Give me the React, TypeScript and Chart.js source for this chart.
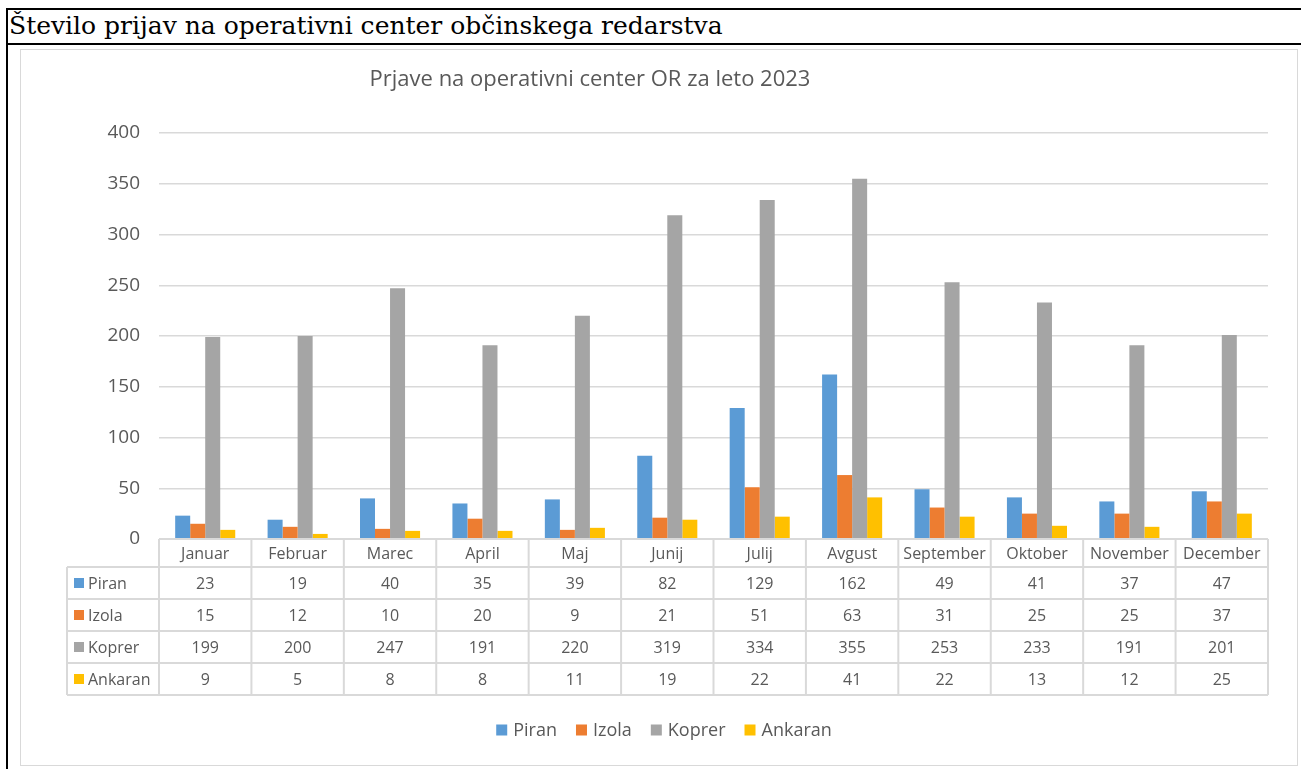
import React, { useEffect, useRef } from "react";
import { Chart, registerables } from "chart.js";

Chart.register(...registerables);

const months = ["Januar", "Februar", "Marec", "April", "Maj", "Junij", "Julij", "Avgust", "September", "Oktober", "November", "December"];
const piran = [23, 19, 40, 35, 39, 82, 129, 162, 49, 41, 37, 47];
const izola = [15, 12, 10, 20, 9, 21, 51, 63, 31, 25, 25, 37];
const koprer = [199, 200, 247, 191, 220, 319, 334, 355, 253, 233, 191, 201];
const ankaran = [9, 5, 8, 8, 11, 19, 22, 41, 22, 13, 12, 25];
const seriesNames = ["Piran", "Izola", "Koprer", "Ankaran"];
const seriesColors = ["#5b9bd5", "#ed7d31", "#a5a5a5", "#ffc000"];
const yMin = 0;
const yMax = 400;
const yStep = 50;
const chartTitle = "Prjave na operativni center OR za leto 2023";
const headerText = "Število prijav na operativni center občinskega redarstva";

const FONT = "'Open Sans', sans-serif";
const TEXT = "#595959";
const LINE = "#d9d9d9";

const tablePlugin = {
  id: "tableAndLegend",
  afterDraw(chart: any) {
    const ctx = chart.ctx as CanvasRenderingContext2D;
    const area = chart.chartArea;
    const xs = chart.scales.x;
    const n = months.length;
    const colW = (area.right - area.left) / n;
    const headerTop = area.bottom;
    const headerH = 28;
    const rowH = 32;
    const labelLeft = area.left - 92;
    const rowsTop = headerTop + headerH;
    const nRows = chart.data.datasets.length;
    const tableBottom = rowsTop + rowH * nRows;

    ctx.save();
    // title
    ctx.fillStyle = TEXT;
    ctx.font = `22px ${FONT}`;
    ctx.textAlign = "center";
    ctx.textBaseline = "middle";
    ctx.fillText(chartTitle, 569, 30);

    // table lines
    ctx.strokeStyle = LINE;
    ctx.lineWidth = 2;
    const line = (x1: number, y1: number, x2: number, y2: number) => {
      ctx.beginPath();
      ctx.moveTo(x1, y1);
      ctx.lineTo(x2, y2);
      ctx.stroke();
    };
    line(area.left, headerTop, area.right, headerTop);
    for (let r = 0; r <= nRows; r++) {
      line(labelLeft, rowsTop + r * rowH, area.right, rowsTop + r * rowH);
    }
    line(labelLeft, rowsTop, labelLeft, tableBottom);
    for (let i = 0; i <= n; i++) {
      const bx = i < n ? xs.getPixelForValue(i) - colW / 2 : area.right;
      line(bx, headerTop, bx, tableBottom);
    }

    // month labels
    ctx.fillStyle = TEXT;
    ctx.font = `16px ${FONT}`;
    ctx.textAlign = "center";
    ctx.textBaseline = "middle";
    months.forEach((m, i) => {
      ctx.fillText(m, xs.getPixelForValue(i), headerTop + headerH / 2 + 1);
    });

    // rows
    chart.data.datasets.forEach((ds: any, r: number) => {
      const cy = rowsTop + r * rowH + rowH / 2;
      ctx.fillStyle = ds.backgroundColor;
      ctx.fillRect(labelLeft + 7, cy - 5, 10, 10);
      ctx.fillStyle = TEXT;
      ctx.textAlign = "left";
      ctx.fillText(ds.label, labelLeft + 21, cy + 1);
      ctx.textAlign = "center";
      ds.data.forEach((v: number, i: number) => {
        ctx.fillText(String(v), xs.getPixelForValue(i), cy + 1);
      });
    });

    // legend
    ctx.font = `18px ${FONT}`;
    ctx.textAlign = "left";
    const box = 11;
    const gapBoxText = 6;
    const gapItems = 19;
    const widths = chart.data.datasets.map((ds: any) => box + gapBoxText + ctx.measureText(ds.label).width);
    const total = widths.reduce((a: number, b: number) => a + b, 0) + gapItems * (widths.length - 1);
    let lx = chart.width / 2 + 5 - total / 2;
    const ly = 680;
    chart.data.datasets.forEach((ds: any, k: number) => {
      ctx.fillStyle = ds.backgroundColor;
      ctx.fillRect(lx, ly - box / 2, box, box);
      ctx.fillStyle = TEXT;
      ctx.fillText(ds.label, lx + box + gapBoxText, ly + 1);
      lx += widths[k] + gapItems;
    });
    ctx.restore();
  },
};

export default function App() {
  const canvasRef = useRef<HTMLCanvasElement | null>(null);

  useEffect(() => {
    const canvas = canvasRef.current;
    if (!canvas) return;
    const values = [piran, izola, koprer, ankaran];
    const chart = new Chart(canvas, {
      type: "bar",
      data: {
        labels: months,
        datasets: values.map((d, k) => ({
          label: seriesNames[k],
          data: d,
          backgroundColor: seriesColors[k],
          borderWidth: 0,
          categoryPercentage: 0.65,
          barPercentage: 1.0,
        })),
      },
      options: {
        animation: false,
        responsive: false,
        devicePixelRatio: 1,
        layout: { padding: { left: 0, top: 83, right: 29, bottom: 226 } },
        plugins: {
          legend: { display: false },
          title: { display: false },
          tooltip: { enabled: false },
        },
        scales: {
          x: { display: false, offset: true },
          y: {
            min: yMin,
            max: yMax,
            ticks: { stepSize: yStep, padding: 19, color: TEXT, font: { family: "'Open Sans', sans-serif", size: 19 } },
            grid: { color: LINE, drawTicks: false, lineWidth: 1.5 },
            border: { display: false },
            afterFit: (s: any) => {
              s.width = 138;
            },
          },
        },
      },
      plugins: [tablePlugin],
    } as any);
    return () => chart.destroy();
  }, []);

  return (
    <div style={{ position: "absolute", left: 0, top: 0, width: 1301, height: 769, background: "#fff", overflow: "hidden" }}>
      <div style={{ position: "absolute", left: 6, top: 8, width: 1295, height: 2, background: "#000" }} />
      <div style={{ position: "absolute", left: 6, top: 43, width: 1295, height: 2, background: "#000" }} />
      <div style={{ position: "absolute", left: 6, top: 8, width: 2, height: 761, background: "#000" }} />
      <div
        style={{
          position: "absolute",
          left: 9,
          top: 11,
          fontFamily: "'DejaVu Serif', serif",
          fontSize: 25,
          lineHeight: "29px",
          color: "#000",
          whiteSpace: "nowrap",
        }}
      >
        {headerText}
      </div>
      <div
        style={{
          position: "absolute",
          left: 20,
          top: 49,
          width: 1278,
          height: 717,
          border: "1px solid #d9d9d9",
          boxSizing: "border-box",
        }}
      >
        <canvas ref={canvasRef} width={1276} height={715} style={{ display: "block", width: 1276, height: 715 }} />
      </div>
    </div>
  );
}
